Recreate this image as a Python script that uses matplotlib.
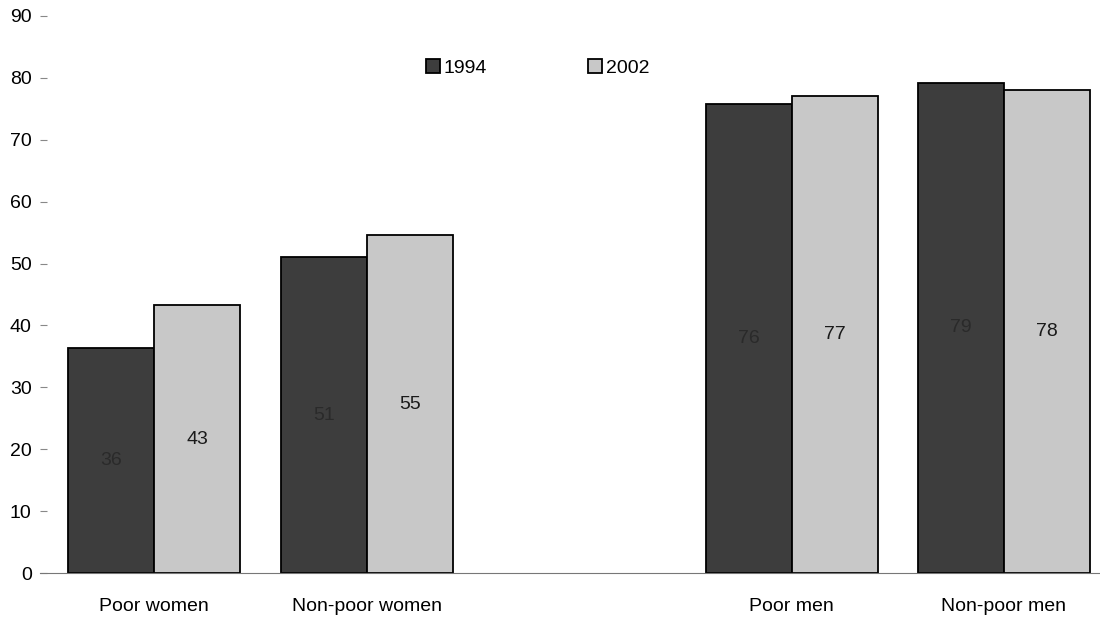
import numpy as np
import matplotlib.pyplot as plt

plt.rcParams['font.family'] = ['Liberation Sans', 'DejaVu Sans']

categories = ['Poor women', 'Non-poor women', '', 'Poor men', 'Non-poor men']
slots = [0, 1, 3, 4]
vals_1994 = [36.4, 51.0, 75.8, 79.2]
vals_2002 = [43.3, 54.6, 77.1, 78.0]
labels_1994 = ['36', '51', '76', '79']
labels_2002 = ['43', '55', '77', '78']
yticks = [0, 10, 20, 30, 40, 50, 60, 70, 80, 90]

fig = plt.figure(figsize=(11, 6.19), dpi=100)
ax = fig.add_axes([40 / 1100, 46 / 619, 1060 / 1100, 557 / 619])

w = 0.405
x = np.array(slots, dtype=float)
b1 = ax.bar(x - w / 2, vals_1994, w, color='#3d3d3d', edgecolor='black', linewidth=1.3, label='1994')
b2 = ax.bar(x + w / 2, vals_2002, w, color='#c8c8c8', edgecolor='black', linewidth=1.3, label='2002')

for xi, v, t in zip(x, vals_1994, labels_1994):
    ax.text(xi - w / 2, v / 2, t, ha='center', va='center', fontsize=14, color='#2a2a2a')
for xi, v, t in zip(x, vals_2002, labels_2002):
    ax.text(xi + w / 2, v / 2, t, ha='center', va='center', fontsize=14, color='#1a1a1a')

ax.set_xlim(-0.538, 4.452)
ax.set_ylim(0, 90)
ax.set_yticks(yticks)
ax.set_xticks(range(len(categories)))
ax.set_xticklabels(categories, fontsize=14)
ax.tick_params(axis='x', length=0, pad=18)
ax.tick_params(axis='y', direction='in', length=5, color='#888888', pad=6, labelsize=14)

for s in ['top', 'right', 'left']:
    ax.spines[s].set_visible(False)
ax.spines['bottom'].set_color('#777777')
ax.spines['bottom'].set_linewidth(0.8)

fig.legend(handles=[b1, b2], loc='center', bbox_to_anchor=(0.489, 0.89), ncol=2,
           frameon=False, fontsize=14, handlelength=0.7, handleheight=0.7,
           handletextpad=0.2, columnspacing=5.2)

fig.savefig('out.png', dpi=100)
